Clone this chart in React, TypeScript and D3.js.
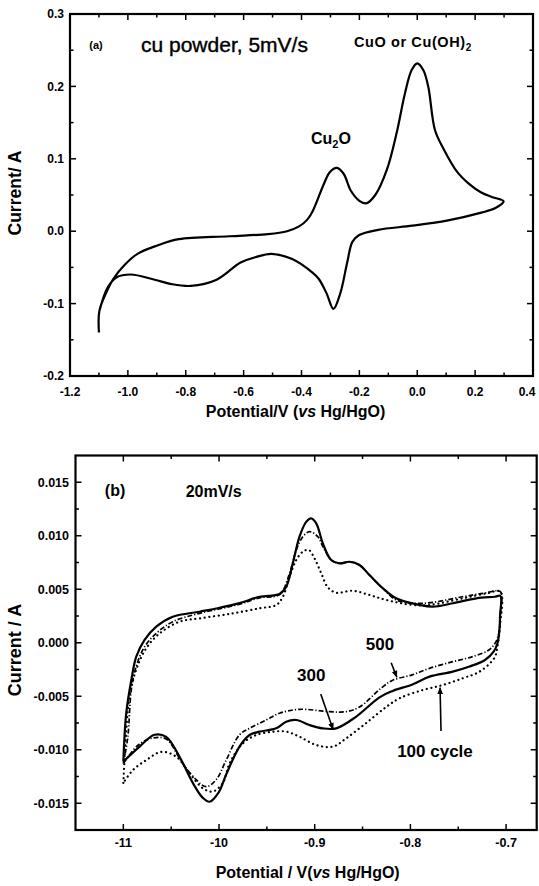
import React from 'react';
import * as d3 from 'd3';

const FONT = '"Liberation Sans", Arial, Helvetica, sans-serif';

type P = [number, number];

// ---------- Panel (a): Cu powder, 5 mV/s  (potential V, current A)
const cvA: P[] = [
  [-1.1, -0.14], [-1.0985, -0.11], [-1.075, -0.085], [-1.05, -0.0658], [-1.01, -0.046],
  [-0.9668, -0.0313], [-0.9, -0.02], [-0.824, -0.011], [-0.65, -0.007], [-0.5155, -0.004],
  [-0.45, 0.0], [-0.4084, 0.0066], [-0.38, 0.016], [-0.361, 0.028], [-0.322, 0.066],
  [-0.3016, 0.0819], [-0.2777, 0.0875], [-0.2539, 0.079], [-0.2304, 0.0566], [-0.2, 0.042],
  [-0.1768, 0.0384], [-0.145, 0.05], [-0.105, 0.085], [-0.0711, 0.136],
  [-0.0424, 0.1905], [-0.0193, 0.2227], [0.0, 0.2319], [0.0208, 0.2227], [0.0381, 0.1996],
  [0.0612, 0.1398], [0.0906, 0.114], [0.138, 0.0819], [0.18, 0.065], [0.2212, 0.0534],
  [0.26, 0.047], [0.2983, 0.0413],
  [0.27, 0.032], [0.2212, 0.0256], [0.1024, 0.0146], [-0.0165, 0.0076], [-0.1354, 0.0019],
  [-0.2007, -0.0053], [-0.2242, -0.0148], [-0.2421, -0.0432], [-0.266, -0.0859], [-0.2898, -0.1073],
  [-0.3133, -0.0859], [-0.34, -0.066], [-0.361, -0.0575], [-0.4322, -0.0385], [-0.5034, -0.0313],
  [-0.56, -0.036], [-0.6105, -0.0432], [-0.6934, -0.067], [-0.7826, -0.0756], [-0.85, -0.073],
  [-0.9073, -0.067], [-0.9906, -0.0598], [-1.04, -0.064], [-1.07, -0.078], [-1.0985, -0.11],
];

const xTicksA = [-1.2, -1.0, -0.8, -0.6, -0.4, -0.2, 0.0, 0.2, 0.4];
const xTickLabelsA = ['-1.2', '-1.0', '-0.8', '-0.6', '-0.4', '-0.2', '0.0', '0.2', '0.4'];
const xMinorA = [-1.1, -0.9, -0.7, -0.5, -0.3, -0.1, 0.1, 0.3];
const yTicksA = [-0.2, -0.1, 0.0, 0.1, 0.2, 0.3];
const yTickLabelsA = ['-0.2', '-0.1', '0.0', '0.1', '0.2', '0.3'];
const yMinorA = [-0.15, -0.05, 0.05, 0.15, 0.25];

// ---------- Panel (b): 20 mV/s, cycles
const cycle300: P[] = [
  [-1.1, -0.0111], [-1.097, -0.0066], [-1.0917, -0.0035], [-1.0865, -0.0013], [-1.0778, 0.00026],
  [-1.0656, 0.0015], [-1.0483, 0.00243], [-1.0204, 0.0029], [-1.0029, 0.0032], [-0.9786, 0.0037],
  [-0.9577, 0.0043], [-0.9368, 0.00456], [-0.9298, 0.00524], [-0.9229, 0.00742], [-0.9159, 0.00991],
  [-0.9089, 0.0113], [-0.9037, 0.01163], [-0.8984, 0.01116], [-0.8915, 0.00929], [-0.8828, 0.00773],
  [-0.8741, 0.00742], [-0.8636, 0.00757], [-0.8532, 0.00727], [-0.8428, 0.00633], [-0.8288, 0.00509],
  [-0.8149, 0.00415], [-0.7905, 0.00353], [-0.7766, 0.00337], [-0.7557, 0.00369], [-0.731, 0.00415],
  [-0.712, 0.0043], [-0.706, 0.00437], [-0.7063, 0.0025], [-0.707, 0.00119], [-0.709, -0.00005],
  [-0.713, -0.00084], [-0.722, -0.00161], [-0.739, -0.00224], [-0.7557, -0.0027], [-0.78, -0.00317],
  [-0.798, -0.0039], [-0.8184, -0.0045], [-0.8323, -0.0051], [-0.8566, -0.0069], [-0.8775, -0.008],
  [-0.8915, -0.008], [-0.9054, -0.00769], [-0.9193, -0.00722], [-0.9298, -0.00738], [-0.9402, -0.008],
  [-0.9577, -0.00831], [-0.9681, -0.00862], [-0.9786, -0.0097], [-0.9925, -0.0123], [-1.0005, -0.014],
  [-1.01, -0.01486], [-1.0169, -0.0145], [-1.0274, -0.0131], [-1.0413, -0.01065], [-1.0552, -0.0088],
  [-1.0674, -0.0086], [-1.083, -0.0097], [-1.1, -0.0111],
];

const cycle500: P[] = [
  [-1.1, -0.0113], [-1.0953, -0.0088], [-1.0917, -0.0044], [-1.0865, -0.0022], [-1.0778, -0.00037],
  [-1.0656, 0.00088], [-1.0483, 0.00197], [-1.0204, 0.00275], [-0.9786, 0.0036], [-0.9577, 0.0042],
  [-0.9368, 0.0045], [-0.9263, 0.00649], [-0.9193, 0.00867], [-0.9124, 0.00991], [-0.9054, 0.01038],
  [-0.8967, 0.00991], [-0.8915, 0.009], [-0.8828, 0.00773], [-0.8741, 0.00742], [-0.8636, 0.00757],
  [-0.8532, 0.00727], [-0.8428, 0.00633], [-0.8288, 0.00509], [-0.8149, 0.004], [-0.787, 0.00369],
  [-0.7453, 0.0043], [-0.724, 0.00462], [-0.706, 0.00477], [-0.7063, 0.0025], [-0.707, 0.00119],
  [-0.7105, 0.0001], [-0.718, -0.00068], [-0.735, -0.0013], [-0.7557, -0.00177], [-0.78, -0.00239],
  [-0.7981, -0.003], [-0.8184, -0.0035], [-0.83, -0.0042], [-0.8531, -0.006], [-0.8671, -0.00644],
  [-0.8845, -0.00644], [-0.9159, -0.00622], [-0.9368, -0.00659], [-0.9507, -0.00722], [-0.9681, -0.008],
  [-0.9786, -0.0086], [-0.9925, -0.01096], [-1.003, -0.0128], [-1.0134, -0.01345], [-1.0238, -0.0128],
  [-1.0378, -0.0113], [-1.0552, -0.009], [-1.0692, -0.0089], [-1.085, -0.0096], [-1.1, -0.0113],
];

const cycle100: P[] = [
  [-1.1, -0.0131], [-1.0975, -0.009], [-1.0935, -0.005], [-1.0865, -0.0025], [-1.076, -0.0005],
  [-1.062, 0.00088], [-1.0413, 0.00197], [-1.02, 0.00228], [-0.9856, 0.00275], [-0.9577, 0.00322],
  [-0.9402, 0.00353], [-0.9333, 0.0043], [-0.9263, 0.00617], [-0.9193, 0.00773], [-0.9124, 0.00851],
  [-0.9062, 0.00867], [-0.9002, 0.00789], [-0.8932, 0.00649], [-0.8863, 0.00518], [-0.8775, 0.00468],
  [-0.8602, 0.00486], [-0.8428, 0.00446], [-0.8253, 0.004], [-0.7975, 0.00353], [-0.78, 0.00353],
  [-0.7453, 0.00415], [-0.72, 0.00462], [-0.706, 0.00477], [-0.7065, 0.0015], [-0.709, -0.0003],
  [-0.7121, -0.0014], [-0.7278, -0.0027], [-0.7453, -0.00332], [-0.7661, -0.00395], [-0.787, -0.00442],
  [-0.8114, -0.00519], [-0.8253, -0.006], [-0.8462, -0.0075], [-0.8671, -0.00893], [-0.881, -0.00971],
  [-0.8984, -0.00956], [-0.9159, -0.00878], [-0.9298, -0.00831], [-0.9437, -0.00831], [-0.9611, -0.00862],
  [-0.9751, -0.0094], [-0.989, -0.01127], [-0.996, -0.0131], [-1.0065, -0.0139], [-1.0169, -0.0136],
  [-1.0308, -0.0122], [-1.0447, -0.01065], [-1.0604, -0.0102], [-1.076, -0.01096], [-1.09, -0.0119],
  [-1.1, -0.0131],
];

const xTicksB = [-1.1, -1.0, -0.9, -0.8, -0.7];
const xTickLabelsB = ['-11', '-10', '-0.9', '-0.8', '-0.7'];
const xMinorB = [-1.05, -0.95, -0.85, -0.75];
const yTicksB = [-0.015, -0.01, -0.005, 0.0, 0.005, 0.01, 0.015];
const yTickLabelsB = ['-0.015', '-0.010', '-0.005', '0.000', '0.005', '0.010', '0.015'];
const yMinorB = [-0.0125, -0.0075, -0.0025, 0.0025, 0.0075, 0.0125];

// annotation anchors (data units)
const annoB = {
  label500: [-0.8318, -0.00068] as P,
  arrow500: [[-0.8201, -0.00187], [-0.8142, -0.00322]] as P[],
  label300: [-0.9036, -0.00358] as P,
  arrow300: [[-0.8937, -0.00479], [-0.8808, -0.0081]] as P[],
  label100: [-0.7743, -0.01068] as P,
  arrow100: [[-0.768, -0.00825], [-0.769, -0.0042]] as P[],
};

type S = d3.ScaleLinear<number, number>;

function Frame({ xs, ys, xMajor, xMinor, yMajor, yMinor }: {
  xs: S; ys: S; xMajor: number[]; xMinor: number[]; yMajor: number[]; yMinor: number[];
}) {
  const [l, r] = xs.range();
  const [b, t] = ys.range();
  const M = 6, m = 3.5;
  return (
    <g stroke="#000" fill="none">
      <rect x={l} y={t} width={r - l} height={b - t} strokeWidth={2.2} />
      {xMajor.concat(xMinor).map((v, i) => {
        const len = i < xMajor.length ? M : m;
        const x = xs(v);
        return (
          <g key={'x' + i} strokeWidth={1.5}>
            <line x1={x} x2={x} y1={b} y2={b - len} />
            <line x1={x} x2={x} y1={t} y2={t + len} />
          </g>
        );
      })}
      {yMajor.concat(yMinor).map((v, i) => {
        const len = i < yMajor.length ? M : m;
        const y = ys(v);
        return (
          <g key={'y' + i} strokeWidth={1.5}>
            <line x1={l} x2={l + len} y1={y} y2={y} />
            <line x1={r} x2={r - len} y1={y} y2={y} />
          </g>
        );
      })}
    </g>
  );
}

export default function App() {
  const xA = d3.scaleLinear().domain([-1.2, 0.4]).range([70, 533]);
  const yA = d3.scaleLinear().domain([-0.2, 0.3]).range([376, 14]);
  const xB = d3.scaleLinear().domain([-1.15, -0.668]).range([75.5, 536.7]);
  const yB = d3.scaleLinear().domain([-0.0175, 0.0175]).range([830, 455.5]);

  const lineA = d3.line<P>().x(d => xA(d[0])).y(d => yA(d[1])).curve(d3.curveCatmullRom.alpha(0.5));
  const lineB = d3.line<P>().x(d => xB(d[0])).y(d => yB(d[1])).curve(d3.curveCatmullRom.alpha(0.5));

  const arrow = (pts: P[], key: string) => (
    <line key={key} x1={xB(pts[0][0])} y1={yB(pts[0][1])} x2={xB(pts[1][0])} y2={yB(pts[1][1])}
      stroke="#000" strokeWidth={1.6} markerEnd="url(#arrowhead)" />
  );

  return (
    <svg width={539} height={886} viewBox="0 0 539 886"
      style={{ position: 'absolute', left: 0, top: 0, background: '#fff' }}
      fontFamily={FONT}>
      <defs>
        <marker id="arrowhead" viewBox="0 0 10 10" refX="9" refY="5" markerUnits="userSpaceOnUse"
          markerWidth="9" markerHeight="7" orient="auto">
          <path d="M0,1 L10,5 L0,9 z" fill="#000" />
        </marker>
      </defs>
      <rect x={0} y={0} width={539} height={886} fill="#fff" />

      {/* ---------------- Panel (a) ---------------- */}
      <Frame xs={xA} ys={yA} xMajor={xTicksA} xMinor={xMinorA} yMajor={yTicksA} yMinor={yMinorA} />
      <path d={lineA(cvA) || ''} fill="none" stroke="#000" strokeWidth={2.2} strokeLinejoin="round" />

      <g fontWeight="bold" fontSize={12} fill="#000">
        {xTicksA.map((v, i) => (
          <text key={i} x={Math.min(xA(v), 527)} y={396} textAnchor="middle">{xTickLabelsA[i]}</text>
        ))}
        {yTicksA.map((v, i) => (
          <text key={i} x={64} y={yA(v)} dy="0.35em" textAnchor="end">{yTickLabelsA[i]}</text>
        ))}
      </g>
      <text x={295.6} y={417} textAnchor="middle" fontWeight="bold" fontSize={16}>
        <tspan>Potential/V (</tspan><tspan fontStyle="italic">vs</tspan><tspan> Hg/HgO)</tspan>
      </text>
      <text transform="translate(21,193) rotate(-90)" textAnchor="middle" fontWeight="bold" fontSize={17.5}>
        Current/ A
      </text>

      <text x={xA(-1.1101)} y={yA(0.2521)} textAnchor="middle" fontWeight="bold" fontSize={11}>(a)</text>
      <text x={xA(-0.9546)} y={yA(0.2481)} fontSize={21} stroke="#000" strokeWidth={0.4}>cu powder, 5mV/s</text>
      <text x={xA(-0.2186)} y={yA(0.2548)} fontSize={14.5} fontWeight="bold" letterSpacing={0.6}>
        CuO or Cu(OH)<tspan fontSize={10} dy={4}>2</tspan>
      </text>
      <text x={xA(-0.3672)} y={yA(0.1209)} fontSize={16} fontWeight="bold">
        Cu<tspan fontSize={11} dy={4}>2</tspan><tspan dy={-4}>O</tspan>
      </text>

      {/* ---------------- Panel (b) ---------------- */}
      <Frame xs={xB} ys={yB} xMajor={xTicksB} xMinor={xMinorB} yMajor={yTicksB} yMinor={yMinorB} />
      <path d={lineB(cycle100) || ''} fill="none" stroke="#000" strokeWidth={2.2}
        strokeDasharray="0.1 4.6" strokeLinecap="round" />
      <path d={lineB(cycle500) || ''} fill="none" stroke="#000" strokeWidth={1.7}
        strokeDasharray="5 2 1.2 2" />
      <path d={lineB(cycle300) || ''} fill="none" stroke="#000" strokeWidth={2.2} strokeLinejoin="round" />

      <g fontWeight="bold" fontSize={12.5} fill="#000">
        {xTicksB.map((v, i) => (
          <text key={i} x={xB(v)} y={847} textAnchor="middle">{xTickLabelsB[i]}</text>
        ))}
        {yTicksB.map((v, i) => (
          <text key={i} x={69} y={yB(v)} dy="0.35em" textAnchor="end">{yTickLabelsB[i]}</text>
        ))}
      </g>
      <text x={307.7} y={878} textAnchor="middle" fontWeight="bold" fontSize={16}>
        <tspan>Potential / V(</tspan><tspan fontStyle="italic">vs</tspan><tspan> Hg/HgO)</tspan>
      </text>
      <text transform="translate(21,650) rotate(-90)" textAnchor="middle" fontWeight="bold" fontSize={18}>
        Current / A
      </text>

      <text x={xB(-1.1087)} y={yB(0.01371)} textAnchor="middle" fontWeight="bold" fontSize={16}>(b)</text>
      <text x={xB(-1.0349)} y={yB(0.01362)} fontWeight="bold" fontSize={16}>20mV/s</text>

      <g fontWeight="bold" fontSize={17}>
        <text x={xB(annoB.label500[0])} y={yB(annoB.label500[1])} textAnchor="middle">500</text>
        <text x={xB(annoB.label300[0])} y={yB(annoB.label300[1])} textAnchor="middle">300</text>
        <text x={xB(annoB.label100[0])} y={yB(annoB.label100[1])} textAnchor="middle">100 cycle</text>
      </g>
      {arrow(annoB.arrow500, 'a500')}
      {arrow(annoB.arrow300, 'a300')}
      {arrow(annoB.arrow100, 'a100')}
    </svg>
  );
}
